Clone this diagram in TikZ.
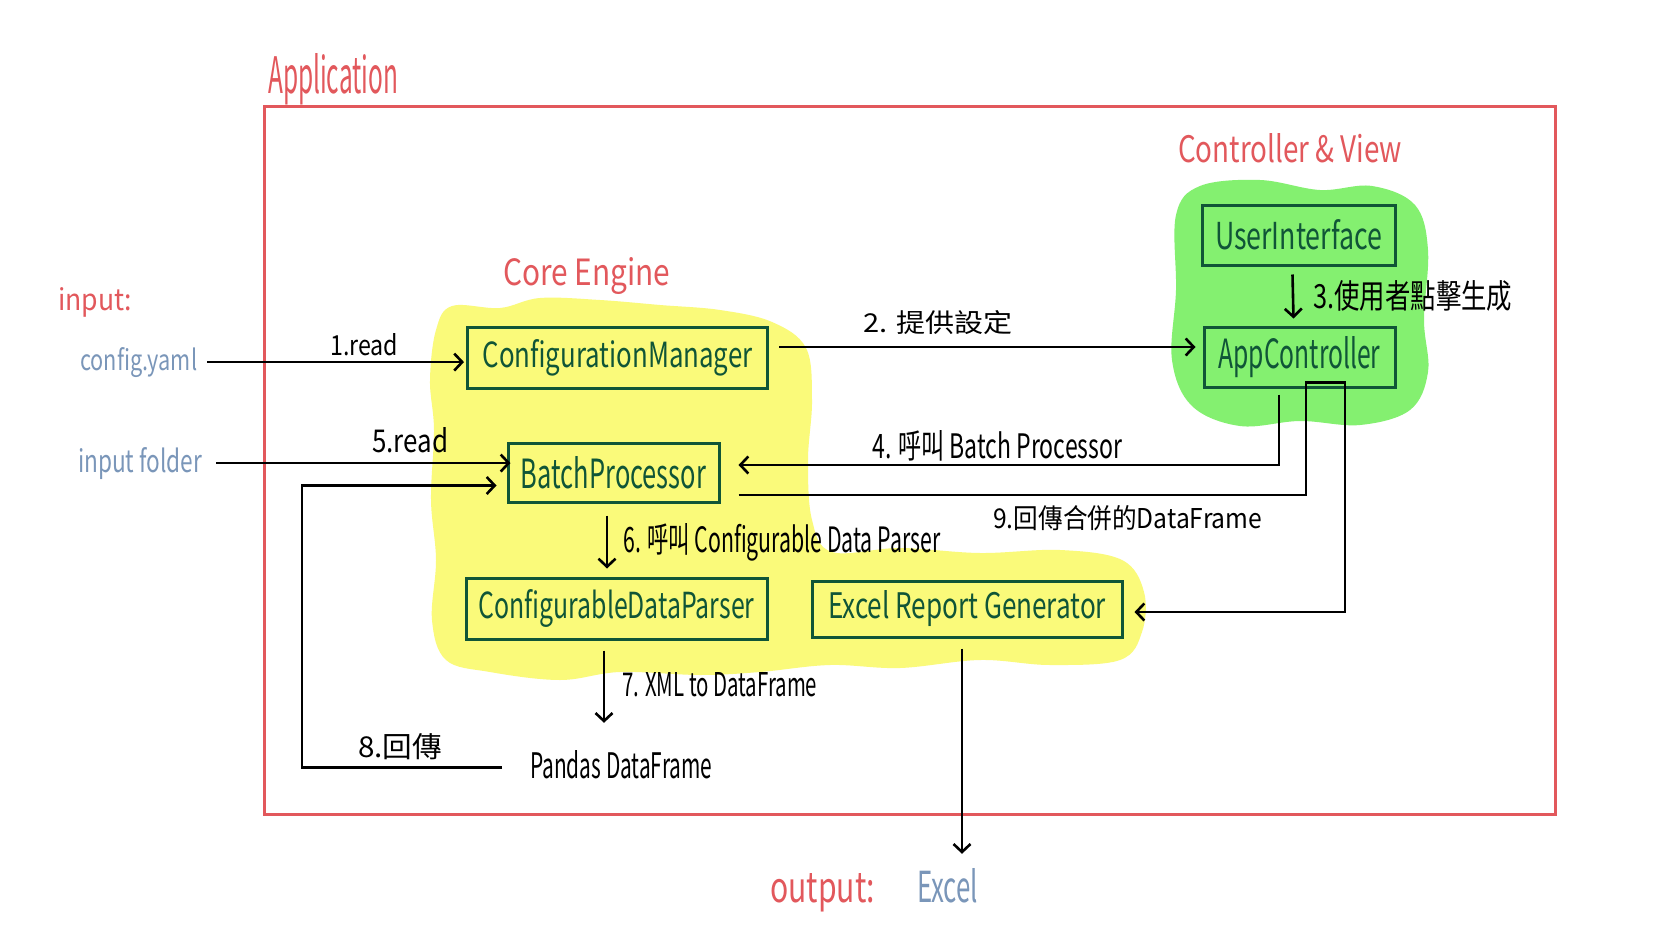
\documentclass[tikz,border=0pt]{standalone}
\usepackage{fontspec}
\usepackage{graphicx}
\setmainfont{Noto Sans CJK TC}
\usetikzlibrary{arrows.meta,calc}
\definecolor{appred}{RGB}{226,88,92}
\definecolor{inblue}{RGB}{122,150,185}
\definecolor{dkgreen}{RGB}{16,85,55}
\definecolor{coreyel}{RGB}{250,250,122}
\definecolor{ctrlgrn}{RGB}{132,240,112}
\newcommand{\fittext}[3]{\resizebox{#1pt}{#2pt}{#3}}
\begin{document}
\begin{tikzpicture}[x=1pt,y=-1pt,
  lbl/.style={anchor=base west,inner sep=0pt},
  redlbl/.style={lbl,text=appred},
  bluelbl/.style={lbl,text=inblue},
  cbox/.style={draw=dkgreen,line width=3pt,text=dkgreen,inner sep=0pt},
  arr/.style={draw=black,line width=2.6pt,-{Straight Barb[length=8pt,width=17pt]}},
  ln/.style={draw=black,line width=2.6pt}]
\fill[white] (0,0) rectangle (1668,942);
\useasboundingbox (0,0) rectangle (1668,942);

% application frame
\draw[appred,line width=3pt] (264,106) rectangle (1555,814);

% blobs
\fill[coreyel] plot[smooth cycle, tension=0.6] coordinates {
 (436,330) (452,306) (500,308) (540,298) (600,300) (660,305) (720,310) (772,322)
 (806,348) (812,400) (808,460) (812,520) (832,552) (900,548) (980,553) (1060,550)
 (1122,560) (1144,592) (1142,632) (1120,660) (1050,665) (980,660) (900,668) (830,665)
 (760,672) (700,675) (620,672) (560,680) (490,672) (446,660) (432,620) (436,560)
 (431,500) (434,430) (430,380)};
\fill[ctrlgrn] plot[smooth cycle, tension=0.6] coordinates {
 (1176,215) (1200,186) (1260,180) (1320,190) (1372,186) (1415,205) (1428,250)
 (1424,320) (1428,372) (1410,410) (1360,425) (1300,421) (1240,426) (1192,406)
 (1172,360) (1176,290)};

% titles
\node[redlbl] (tapp) at (268,93) {\fittext{130}{40}{Application}};
\node[redlbl] (tcv) at (1178,162) {\fittext{224}{29}{Controller \& View}};
\node[redlbl] (tce) at (503,285) {\fittext{167}{28}{Core Engine}};
\node[redlbl] (tin) at (58,310) {\fittext{74}{23}{input:}};
\node[redlbl] (tout) at (770,902) {\fittext{105}{29}{output:}};

% inputs / outputs
\node[bluelbl] (cfg) at (80,370) {\fittext{117}{23}{config.yaml}};
\node[bluelbl] (inf) at (78,472) {\fittext{124}{25}{input folder}};
\node[bluelbl] (xl) at (917,902) {\fittext{61}{34}{Excel}};
\node[lbl] (pd) at (530,778) {\fittext{182}{28}{Pandas DataFrame}};

% component boxes
\node[cbox,minimum width=300pt,minimum height=61pt] (cm) at (617.5,358) {\fittext{270}{28}{ConfigurationManager}};
\node[cbox,minimum width=211pt,minimum height=59pt] (bp) at (613.5,472.5) {\fittext{185}{32}{BatchProcessor}};
\node[cbox,minimum width=301pt,minimum height=61pt] (cdp) at (616.5,608.5) {\fittext{276}{29}{ConfigurableDataParser}};
\node[cbox,minimum width=310pt,minimum height=56pt] (erg) at (967,609) {\fittext{278}{28}{Excel Report Generator}};
\node[cbox,minimum width=193pt,minimum height=60pt] (ui) at (1298.5,235) {\fittext{167}{30}{UserInterface}};
\node[cbox,minimum width=191pt,minimum height=60pt] (ac) at (1299.5,357) {\fittext{162}{32}{AppController}};

% connectors
% 1
\draw[arr,shorten >=12pt] ([xshift=10pt]cfg.east) -- ([xshift=10pt]cfg.east -| cm.west);
% 5
\draw[arr,shorten >=10pt] ([xshift=14pt]inf.east) -- ([xshift=14pt]inf.east -| bp.west);
% 8
\coordinate (c8) at (302,0);
\coordinate (bp8) at ([yshift=-13pt]bp.west);
\coordinate (p8) at ([xshift=-28pt,yshift=-3pt]pd.west);
\draw[arr,shorten >=10pt] (p8) -- (c8 |- p8) -- (c8 |- bp8) -- (bp8);
% 2
\coordinate (c2) at ([xshift=10pt,yshift=11pt]cm.east);
\draw[arr,shorten >=7pt] (c2) -- (c2 -| ac.west);
% 3
\draw[arr] ([xshift=-6pt,yshift=-8pt]ui.south) -- ([xshift=-6pt,yshift=7pt]ac.north);
% 4
\coordinate (c4) at ([xshift=-20.5pt,yshift=-6pt]ac.south);
\coordinate (bp4) at ([xshift=18pt,yshift=7.5pt]bp.east);
\draw[arr] (c4) |- (bp4);
% 9
\coordinate (bp9) at ([xshift=18pt,yshift=-22.5pt]bp.east);
\coordinate (a9) at ([xshift=6.5pt,yshift=6pt]ac.south);
\coordinate (b9) at ([xshift=45.5pt,yshift=6pt]ac.south);
\coordinate (e9) at ([xshift=11pt,yshift=-3pt]erg.east);
\draw[arr] (bp9) -- (a9 |- bp9) -- (a9) -- (b9) -- (b9 |- e9) -- (e9);
% 6
\draw[arr,shorten >=8pt] ([xshift=-6.5pt,yshift=-12pt]bp.south) -- ([xshift=-6.5pt]bp.south |- cdp.north);
% 7
\draw[arr,shorten >=27pt] ([xshift=-12.5pt,yshift=-10pt]cdp.south) -- ([xshift=-12.5pt]cdp.south |- pd.north);
% output
\draw[arr,shorten >=14pt] ([xshift=-5pt,yshift=-10pt]erg.south) -- ([xshift=-5pt]erg.south |- xl.north);

% connector labels
\node[lbl] (l1) at (330,355) {\fittext{68}{22}{1.read}};
\node[lbl] (l5) at (372,452) {\fittext{76}{25}{5.read}};
\node[lbl] (l2) at (863,332) {\fittext{149}{22}{2. 提供設定}};
\node[lbl] (l3) at (1313,308) {\fittext{199}{28}{3.使用者點擊生成}};
\node[lbl] (l4) at (872,458) {\fittext{250}{28}{4. 呼叫 Batch Processor}};
\node[lbl] (l6) at (623,552) {\fittext{317}{29}{6. 呼叫 Configurable Data Parser}};
\node[lbl] (l7) at (622,696) {\fittext{195}{24}{7. XML to DataFrame}};
\node[lbl] (l8) at (358,757) {\fittext{84}{24}{8.回傳}};
\node[lbl] (l9) at (993,528) {\fittext{269}{23}{9.回傳合併的DataFrame}};
\end{tikzpicture}
\end{document}
